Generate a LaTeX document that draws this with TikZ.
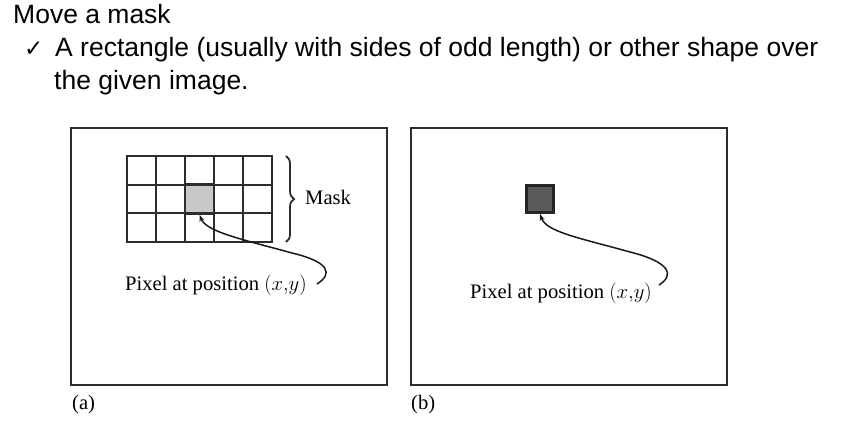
\documentclass[tikz,border=0pt]{standalone}
\usepackage{fontspec}
\setmainfont{Liberation Serif}
\newfontfamily\slidefont{Liberation Sans}
\newfontfamily\symfont{DejaVu Sans}
\usetikzlibrary{positioning,decorations.pathreplacing,arrows.meta}
\definecolor{frameink}{RGB}{45,45,45}
\definecolor{maskgray}{RGB}{200,200,200}
\definecolor{pixdark}{RGB}{90,90,90}
\tikzset{
  imgframe/.style={line width=2.4pt,draw=frameink},
  cellbox/.style={draw=frameink,line width=2.2pt,minimum width=29pt,minimum height=28.7pt,inner sep=0pt},
  centercell/.style={cellbox,fill=maskgray,line width=2.8pt},
  pixbox/.style={draw=black!85,fill=pixdark,line width=2.6pt,minimum size=27pt,inner sep=0pt},
  figtext/.style={font=\fontsize{20.6}{24}\selectfont,inner sep=0pt},
  slidetext/.style={font=\slidefont\fontsize{26.5}{30}\selectfont,inner sep=0pt,anchor=base west},
  pointer/.style={line width=1.5pt,draw=black!90,-{Stealth[length=7pt,width=5pt]}}
}

\begin{document}
\begin{tikzpicture}[x=1pt,y=-1pt]
  \useasboundingbox (0,0) rectangle (843,426);

  % slide text
  \node[slidetext] (title) at (13,23) {Move a mask};
  \node[slidetext] (tick) at (24,56) {\symfont\fontsize{23}{26}\selectfont ✓};
  \node[slidetext] (item1) at (55,56) {A rectangle (usually with sides of odd length) or other shape over};
  \node[slidetext] (item2) at (54,89) {the given image.};

  % (a) mask over the image
  \draw[imgframe] (71,128) rectangle (387,385);
  \foreach \c in {0,...,4}
    \foreach \r in {0,...,2}
      \node[cellbox] (m\c\r) at (141.5+29*\c,170.3+28.7*\r) {};
  \node[centercell] (cellA) at (m21) {};
  \draw[decorate,decoration={brace,amplitude=8pt},line width=1.8pt,draw=frameink]
    (286,156) -- (286,242);
  \node[figtext,anchor=west] (mask) at (305,197) {Mask};
  \node[figtext,anchor=west] (lblA) at (125,285) {Pixel at position $(x{,}y)$};
  \draw[pointer] (lblA.east) ++(10,-1) .. controls +(16,-10) and (330,262) .. (292,253)
    .. controls (245,240) and (206,232) .. (cellA.south);
  \node[figtext,anchor=west] (capA) at (72,405) {(a)};

  % (b) single pixel
  \draw[imgframe] (411,128) rectangle (727,385);
  \node[pixbox] (pixB) at (540,199) {};
  \node[figtext,anchor=west] (lblB) at (470,293) {Pixel at position $(x{,}y)$};
  \draw[pointer] (lblB.east) ++(7,-8) .. controls +(16,-10) and (670,262) .. (630,252)
    .. controls (580,238) and (546,232) .. (pixB.south);
  \node[figtext,anchor=west] (capB) at (411,405) {(b)};
\end{tikzpicture}
\end{document}
